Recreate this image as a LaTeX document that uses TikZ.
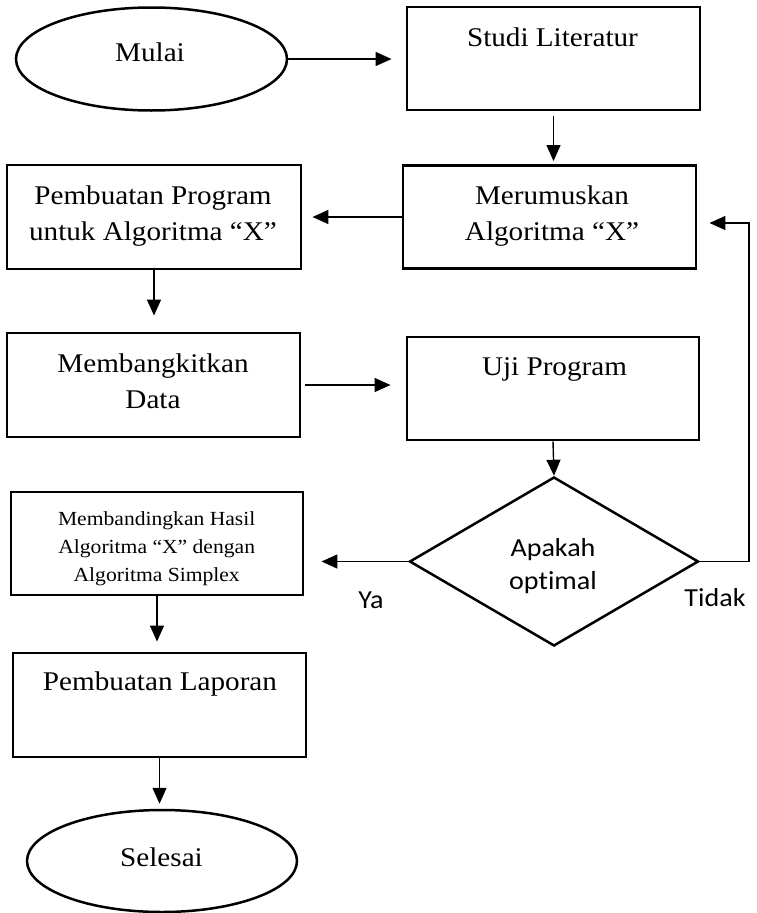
\documentclass[tikz,border=0pt]{standalone}
\usepackage{fontspec}
\setmainfont{Liberation Serif}[FakeStretch=1.08]
\newfontfamily\calfont{Carlito}[FakeStretch=1.08,Ligatures=CommonOff]
\usetikzlibrary{shapes.geometric,arrows.meta}
\begin{document}
\begin{tikzpicture}[x=1pt,y=-1pt,
  box/.style={draw,line width=2.9pt,rectangle,inner sep=0pt,minimum width=293pt,minimum height=103pt},
  term/.style={draw,line width=2.5pt,ellipse,inner sep=0pt,minimum width=271pt,minimum height=103pt},
  txt/.style={inner sep=0pt,align=center,font=\fontsize{27}{36}\selectfont},
  smalltxt/.style={inner sep=0pt,align=center,font=\fontsize{20}{28}\selectfont},
  lbl/.style={inner sep=0pt,align=center,font=\calfont\fontsize{26}{33}\selectfont},
  arr/.style={line width=1.4pt,-{Triangle[length=16pt,width=14pt]}}]
\fill[white] (0,0) rectangle (756,913);
\useasboundingbox (0,0) rectangle (756,913);

% shapes
\node[term] (mulai) at (151.5,59) {};
\node[box] (studi) at (553.5,58.5) {};
\node[box] (rumus) at (549.5,217) {};
\node[box,minimum width=294pt,minimum height=104pt] (buat) at (154,217) {};
\node[box,minimum height=104pt] (bangkit) at (153.5,385) {};
\node[box,minimum width=292pt] (uji) at (553,388.5) {};
\node[diamond,draw,line width=2.5pt,inner sep=0pt,minimum width=289pt,minimum height=169pt] (dec) at (554,561.5) {};
\node[box,minimum width=292pt] (banding) at (157,543.5) {};
\node[box,minimum height=104pt] (lapor) at (159.5,705) {};
\node[term,minimum width=270pt,minimum height=102pt] (selesai) at (162,861) {};

% texts
\node[txt] (tmulai) at (150,54.5) {\strut Mulai};
\node[txt] (tstudi) at (552.5,38.8) {\strut Studi Literatur};
\node[txt] (trumus) at (552,215.7) {\strut Merumuskan\\\strut Algoritma “X”};
\node[txt] (tbuat) at (153,215.7) {\strut Pembuatan Program\\\strut untuk Algoritma “X”};
\node[txt] (tbangkit) at (153,382.8) {\strut Membangkitkan\\\strut Data};
\node[txt] (tuji) at (554.5,367.8) {\strut Uji Program};
\node[lbl] (tdec) at (553,565.9) {\strut Apakah\\\strut optimal};
\node[smalltxt] (tbanding) at (156.7,547.5) {\strut Membandingkan Hasil\\\strut Algoritma “X” dengan\\\strut Algoritma Simplex};
\node[txt] (tlapor) at (160,683.5) {\strut Pembuatan Laporan};
\node[txt] (tselesai) at (161.5,859.5) {\strut Selesai};
\node[lbl] (ya) at (371,601.4) {\strut Ya};
\node[lbl] (tidak) at (715,599.4) {\strut Tidak};

% connectors
\coordinate (fb) at (749,223);
\draw[arr,shorten >=14pt] (mulai.east) -- (mulai.east -| studi.west);
\draw[arr,shorten <=5pt,shorten >=3pt] (studi.south) -- (studi.south |- rumus.north);
\draw[arr,shorten >=10pt] (rumus.west) -- (rumus.west -| buat.east);
\draw[arr,shorten >=16pt] (buat.south) -- (buat.south |- bangkit.north);
\draw[arr,shorten <=4pt,shorten >=15pt] (bangkit.east) -- (bangkit.east -| uji.west);
\draw[arr] (uji.south) -- (dec.north);
\draw[arr,shorten >=17pt] (dec.west) -- (dec.west -| banding.east);
\draw[arr,shorten >=12pt] (dec.east) -| (fb) -- (fb -| rumus.east);
\draw[arr,shorten >=10pt] (banding.south) -- (banding.south |- lapor.north);
\draw[arr,shorten >=5pt] (lapor.south) -- (lapor.south |- selesai.north);
\end{tikzpicture}
\end{document}
